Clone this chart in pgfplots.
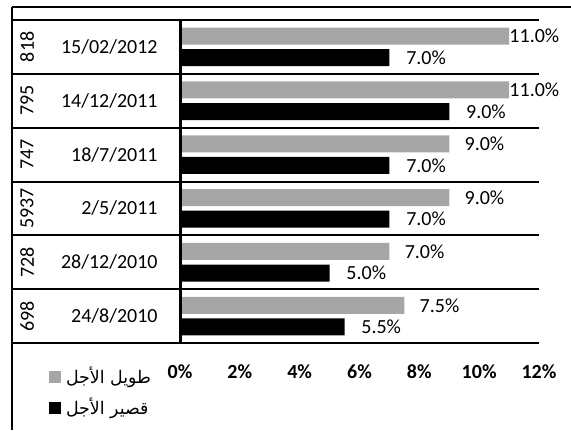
\documentclass[border=0pt]{standalone}
\usepackage{pgfplots}
\pgfplotsset{compat=1.18}
\usepackage{pgfplotstable}
\usepackage{fontspec}
\setmainfont{Carlito}
\newfontfamily\arabicfont[Script=Arabic]{DejaVu Sans}
\TeXXeTstate=1
\definecolor{lgray}{RGB}{166,166,166}

\pgfplotstableread{
y long short
5 11.0 7.0
4 11.0 9.0
3 9.0 7.0
2 9.0 7.0
1 7.0 5.0
0 7.5 5.5
}\ratedata

\begin{document}
\begin{tikzpicture}
\begin{axis}[
  at={(90pt,43.5pt)}, anchor=south west,
  scale only axis, width=179.5pt, height=161.5pt,
  xmin=0, xmax=12, ymin=-0.5, ymax=5.5,
  clip=false,
  axis line style={draw=none},
  major tick length=0pt,
  tick style={draw=none},
  xtick={0,2,...,12},
  xticklabel={\pgfmathprintnumber{\tick}\%},
  xticklabel style={font=\bfseries, anchor=center, inner sep=0pt, yshift=-14.5pt},
  ytick={0,...,5},
  yticklabels={24/8/2010,28/12/2010,2/5/2011,18/7/2011,14/12/2011,15/02/2012},
  yticklabel style={anchor=east, inner sep=0pt, xshift=-11pt},
  /pgf/number format/assume math mode=true,
  legend style={draw=none, fill=none, inner sep=0pt, at={(-0.366,-0.066)}, anchor=north west,
    legend cell align=left, row sep=4pt, column sep=1.5pt, nodes={inner sep=1pt},
    font=\fontsize{8.7}{10}\selectfont},
]
\addplot[xbar, bar shift=0pt, bar width=8.5pt, fill=lgray, draw=none,
  legend image code/.code={\fill[lgray] (0pt,-3pt) rectangle (6pt,3pt);}]
  table[x=long, y expr=\thisrow{y}+0.2] {\ratedata};
\addlegendentry{\arabicfont\beginR طويل الأجل\endR}
\addplot[xbar, bar shift=0pt, bar width=8.5pt, fill=black, draw=none,
  legend image code/.code={\fill[black] (0pt,-3pt) rectangle (6pt,3pt);}]
  table[x=short, y expr=\thisrow{y}-0.2] {\ratedata};
\addlegendentry{\arabicfont\beginR قصير الأجل\endR}

\addplot[draw=none, mark=none, forget plot,
  nodes near coords={\pgfmathprintnumber[fixed,fixed zerofill,precision=1]{\pgfplotspointmeta}\%},
  point meta=explicit, nodes near coords align=horizontal,
  every node near coord/.append style={inner sep=0pt, anchor=west, text=black}]
  table[x expr={min(\thisrow{long}+0.5,11)}, y expr=\thisrow{y}+0.2, meta=long] {\ratedata};
\addplot[draw=none, mark=none, forget plot,
  nodes near coords={\pgfmathprintnumber[fixed,fixed zerofill,precision=1]{\pgfplotspointmeta}\%},
  point meta=explicit, nodes near coords align=horizontal,
  every node near coord/.append style={inner sep=0pt, anchor=west, text=black}]
  table[x expr={\thisrow{short}+0.55}, y expr=\thisrow{y}-0.2, meta=short] {\ratedata};

\pgfplotsinvokeforeach{-0.5,0.5,1.5,2.5,3.5,4.5,5.5}{
  \draw[line width=1pt] ([xshift=-84pt]axis cs:0,#1) -- (axis cs:12,#1);
}
\draw[line width=1.5pt] (axis cs:0,-0.5) -- (axis cs:0,5.5);

\node[rotate=90] at ([xshift=-76.5pt]axis cs:0,5) {818};
\node[rotate=90] at ([xshift=-76.5pt]axis cs:0,4) {795};
\node[rotate=90] at ([xshift=-76.5pt]axis cs:0,3) {747};
\node[rotate=90] at ([xshift=-76.5pt]axis cs:0,2) {5937};
\node[rotate=90] at ([xshift=-76.5pt]axis cs:0,1) {728};
\node[rotate=90] at ([xshift=-76.5pt]axis cs:0,0) {698};
\end{axis}
\draw[line width=1pt] (6pt,211.5pt) -- (285.5pt,211.5pt);
\draw[line width=0.9pt] (6pt,211.5pt) -- (6pt,0pt);
\pgfresetboundingbox
\useasboundingbox (0,0) rectangle (285.5pt,215pt);
\end{tikzpicture}
\end{document}
